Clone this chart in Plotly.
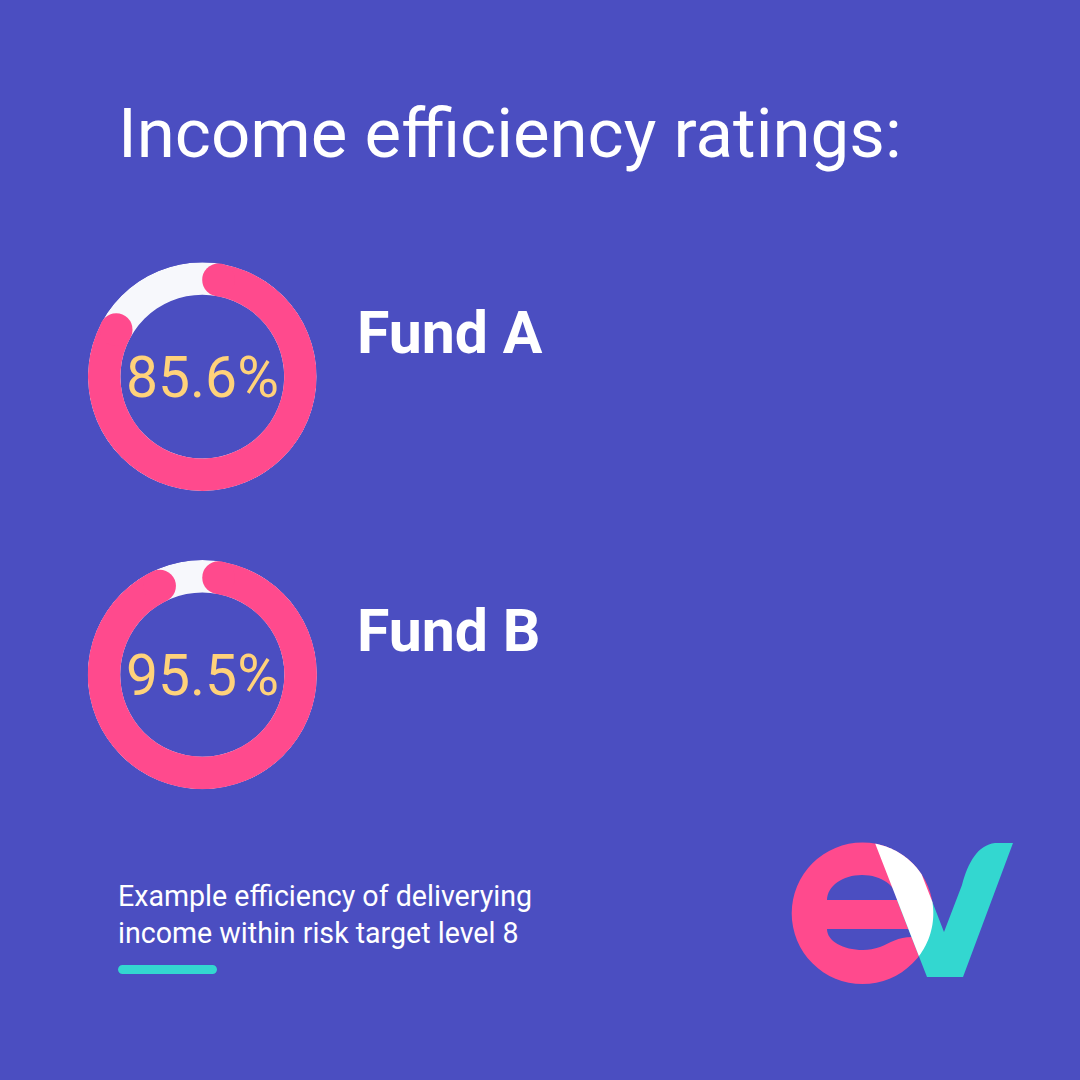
import math
import numpy as np
import plotly.graph_objects as go

# ---------------- data ----------------
funds = ["Fund A", "Fund B"]
ratings = [85.6, 95.5]          # percent
title_text = "Income efficiency ratings:"
note_lines = ["Example efficiency of deliverying", "income within risk target level 8"]

# ---------------- style ----------------
W = H = 1080
BG = "#4B4EC1"
PINK = "#FF4A8D"
TRACK = "#F7F8FC"
GOLD = "#FFD27A"
TEAL = "#33D7D0"
WHITE = "#FFFFFF"
FONT = "Roboto"

HOLE = 0.716                     # inner / outer radius
donut_boxes = [(87.3, 262.3, 317.3, 491.0), (87.3, 560.0, 317.3, 789.3)]  # px (x0, y0, x1, y1)
label_x = 355

fig = go.Figure()

layout_polars = {}
annotations = []
for i, (name, val) in enumerate(zip(funds, ratings)):
    x0, y0, x1, y1 = donut_boxes[i]
    key = "polar" if i == 0 else f"polar{i+1}"
    R_px = (x1 - x0) / 2
    thick_px = (1 - HOLE) * R_px
    mid = (1 + HOLE) / 2
    cap = math.degrees(math.asin((1 - HOLE) / 2 / mid))
    span = val / 100 * 360

    fig.add_trace(go.Barpolar(r=[1 - HOLE], base=[HOLE], theta=[180], width=[360],
                              marker=dict(color=TRACK, line=dict(width=0)),
                              subplot=key, hoverinfo="skip", showlegend=False))
    fig.add_trace(go.Barpolar(r=[1 - HOLE], base=[HOLE], theta=[span / 2], width=[span - 2 * cap],
                              marker=dict(color=PINK, line=dict(width=0)),
                              subplot=key, hoverinfo="skip", showlegend=False))
    fig.add_trace(go.Scatterpolar(r=[mid, mid], theta=[cap, span - cap], mode="markers",
                                  marker=dict(size=thick_px, color=PINK, line=dict(width=0)),
                                  cliponaxis=False, subplot=key, hoverinfo="skip", showlegend=False))

    layout_polars[key] = dict(
        domain=dict(x=[x0 / W, x1 / W], y=[1 - y1 / H, 1 - y0 / H]),
        bgcolor="rgba(0,0,0,0)",
        hole=0,
        angularaxis=dict(rotation=90, direction="clockwise", visible=False, showgrid=False),
        radialaxis=dict(range=[0, 1], visible=False, showgrid=False),
    )
    cx, cy = (x0 + x1) / 2, (y0 + y1) / 2
    annotations.append(dict(x=cx, y=cy + 1, xref="x", yref="y", text=f"{val}%", showarrow=False,
                            xanchor="center", yanchor="middle",
                            font=dict(family=FONT, size=57, color=GOLD, weight=400)))
    annotations.append(dict(x=label_x, y=cy - 44, xref="x", yref="y", text=f"<b>{name}</b>",
                            showarrow=False, xanchor="left", yanchor="middle",
                            font=dict(family=FONT, size=59, color=WHITE)))

annotations.append(dict(x=116, y=133, xref="x", yref="y", text=title_text, showarrow=False,
                        xanchor="left", yanchor="middle",
                        font=dict(family=FONT, size=69, color=WHITE)))
for j, line in enumerate(note_lines):
    annotations.append(dict(x=116, y=896 + 37 * j, xref="x", yref="y", text=line, showarrow=False,
                            xanchor="left", yanchor="middle",
                            font=dict(family=FONT, size=28.6, color=WHITE)))

# ---------------- decorative shapes (pixel coords via hidden axes) ----------------
shapes = []
# underline bar
shapes.append(dict(type="path", xref="x", yref="y", line=dict(width=0), fillcolor=TEAL,
                   path="M 122.5,965 L 212.5,965 C 215,965 217,967 217,969.5 C 217,972 215,974 212.5,974 "
                        "L 122.5,974 C 120,974 118,972 118,969.5 C 118,967 120,965 122.5,965 Z"))

# logo "ev"
ecx, ecy, eR = 862.5, 913.3, 70.8
shapes.append(dict(type="circle", xref="x", yref="y", x0=ecx - eR, x1=ecx + eR, y0=ecy - eR, y1=ecy + eR,
                   fillcolor=PINK, line=dict(width=0)))
shapes.append(dict(type="path", xref="x", yref="y", fillcolor=BG, line=dict(width=0),
                   path="M 827,900 C 827,886.2 842.7,875 862,875 C 881.3,875 897,886.2 897,900 Z"))
shapes.append(dict(type="path", xref="x", yref="y", fillcolor=BG, line=dict(width=0),
                   path="M 827,929 L 935,929 L 935,937 L 912,937 C 898,937 890,943 880,947 "
                        "C 874,949 869,950 863,950 C 843,950 827,941 827,929 Z"))
shapes.append(dict(type="path", xref="x", yref="y", fillcolor=TEAL, line=dict(width=0),
                   path="M 927,977 L 897,900 L 931.6,900 L 944,932 L 962,885 C 968,862 978,845 995,843 "
                        "L 1013,843 L 963,977 Z"))


def clip(poly, a, b):
    """keep part of polygon on one side of directed line a->b"""
    def side(p):
        return (b[0] - a[0]) * (p[1] - a[1]) - (b[1] - a[1]) * (p[0] - a[0])
    out = []
    n = len(poly)
    for k in range(n):
        p, q = poly[k], poly[(k + 1) % n]
        sp, sq = side(p), side(q)
        if sp <= 0:
            out.append(p)
        if (sp <= 0) != (sq <= 0):
            t = sp / (sp - sq)
            out.append((p[0] + t * (q[0] - p[0]), p[1] + t * (q[1] - p[1])))
    return out


ang = np.linspace(0, 2 * np.pi, 240, endpoint=False)
disk = [(ecx + eR * math.cos(t), ecy + eR * math.sin(t)) for t in ang]
L1 = ((875, 843), (927, 977))
L2 = ((944, 932), (909.5, 843))
white = clip(disk, L1[1], L1[0])
white = clip(white, L2[1], L2[0])
if len(white) < 3:
    white = clip(clip(disk, L1[0], L1[1]), L2[0], L2[1])
wpath = "M " + " L ".join(f"{x:.2f},{y:.2f}" for x, y in white) + " Z"
shapes.append(dict(type="path", xref="x", yref="y", fillcolor=WHITE, line=dict(width=0), path=wpath))

fig.update_layout(
    width=W, height=H,
    margin=dict(l=0, r=0, t=0, b=0),
    paper_bgcolor=BG, plot_bgcolor="rgba(0,0,0,0)",
    showlegend=False,
    xaxis=dict(range=[0, W], visible=False, domain=[0, 1], fixedrange=True),
    yaxis=dict(range=[H, 0], visible=False, domain=[0, 1], fixedrange=True),
    annotations=annotations,
    shapes=shapes,
    **layout_polars,
)

fig.write_html("out.html", config={"displayModeBar": False},
               post_script="document.body.style.margin='0';document.body.style.background='%s';"
                           "document.body.style.overflow='hidden';" % BG)
